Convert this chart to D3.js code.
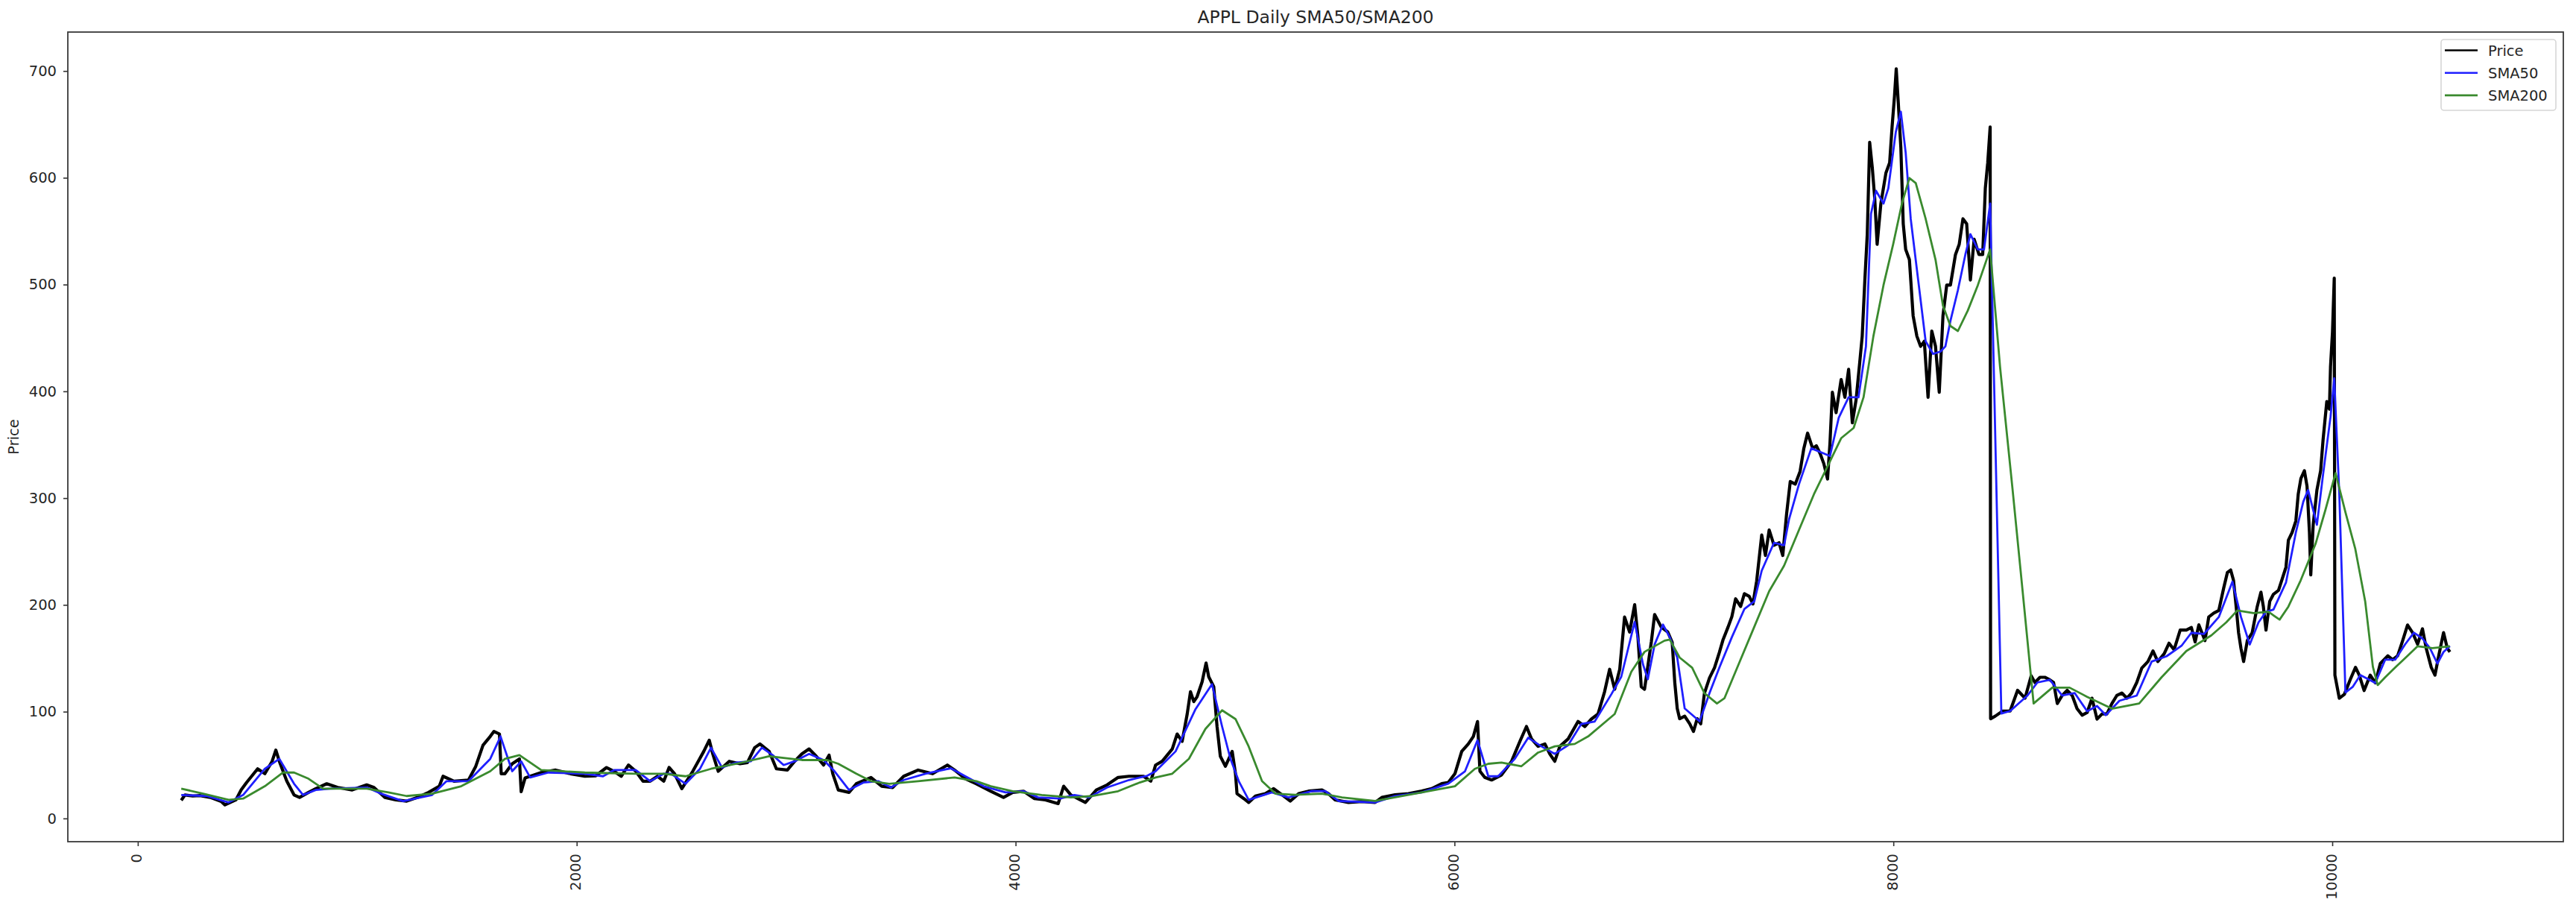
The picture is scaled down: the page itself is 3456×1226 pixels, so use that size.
<!DOCTYPE html>
<html><head><meta charset="utf-8">
<script src="https://cdn.jsdelivr.net/npm/d3@7"></script>
<style>
body{margin:0;background:#fff;}
text{font-family:"DejaVu Sans",sans-serif;}
</style>
</head><body>
<svg id="chart" width="3456" height="1226"></svg>
<script>
const chartTitle = "APPL Daily SMA50/SMA200";
const yAxisLabel = "Price";
const seriesNames = ["Price", "SMA50", "SMA200"];
const seriesColors = ["#000000", "#1f1fff", "#3a8a2e"];
const xTickValues = [0, 2000, 4000, 6000, 8000, 10000];
const yTickValues = [0, 100, 200, 300, 400, 500, 600, 700];

// [day index, value]
const priceSeries = [[198,17],[215,22],[250,21],[283,21.4],[330,19.7],[380,16],[397,12.7],[447,17.4],[471,26.7],[496,33.7],[546,46.5],[579,41.9],[612,53.5],[629,64],[645,53.5],[679,34.9],[712,22],[737,19.7],[778,24.4],[811,27.9],[861,32.5],[911,29],[977,26.7],[1043,31.4],[1076,29],[1126,19.7],[1176,17.4],[1225,16.2],[1275,19.7],[1325,24.4],[1374,30.2],[1391,39.5],[1441,34.9],[1507,36],[1540,48.8],[1573,68.6],[1606,76.8],[1623,81.5],[1648,79.1],[1656,41.9],[1673,41.9],[1706,51.2],[1739,55.8],[1747,25],[1765,38],[1788,39.5],[1838,43],[1904,45.3],[1971,41.9],[2037,39.5],[2087,40],[2136,47.7],[2170,44.2],[2203,39.5],[2236,50],[2269,44.2],[2302,34.9],[2335,34.9],[2368,39.5],
[2397,34.9],[2421,47.7],[2446,41.9],[2479,27.9],[2529,44.2],[2579,62.8],[2604,73.3],[2620,60.5],[2645,44.2],[2695,53.5],[2744,51.2],[2778,52.3],[2811,66.3],[2835,69.8],[2877,62.8],[2910,46.5],[2960,45.3],[2993,53.5],[3026,60.5],[3059,65.1],[3092,58.2],[3125,50],[3150,59.3],[3167,41.9],[3192,26.7],[3241,24.4],[3274,32.5],[3341,38.4],[3390,30.2],[3440,29],[3490,39.5],[3556,45.3],[3622,41.9],[3689,50],[3722,45.3],[3771,37.2],[3821,32.5],[3887,25.5],[3945,19.7],[3987,24.4],[4036,25.5],[4086,18.6],[4136,17.4],[4194,13.9],[4219,30.2],[4252,22],[4318,15],[4368,26.7],[4417,31.4],[4467,38.4],[4517,39.5],[4583,39.5],[4616,34.9],
[4638,50],[4668,53.5],[4714,65.1],[4736,79.1],[4759,72.2],[4782,97.8],[4797,118.7],[4812,109.4],[4827,114],[4850,128],[4868,145.5],[4880,132.7],[4903,123.4],[4918,86.1],[4933,58.2],[4956,48.9],[4987,62.8],[5002,41.9],[5009,23.2],[5040,18.6],[5062,15],[5093,20.9],[5138,23.2],[5176,27.9],[5214,22.1],[5252,16.3],[5290,23.2],[5335,25.6],[5396,26.7],[5426,23.2],[5456,17.4],[5517,15],[5578,15.8],[5638,15],[5669,19.7],[5729,22.1],[5790,23.2],[5851,25.6],[5896,27.9],[5942,32.6],[5972,33.7],[6002,41.9],[6033,62.8],[6063,69.8],[6086,76.8],[6105,90.8],[6116,44.2],[6138,38.4],[6169,36],[6214,40.7],[6260,53.5],[6298,72.1],[6328,86.1],[6351,74.5],[6381,67.5],[6412,69.8],[6434,60.5],[6457,53.5],[6480,67.5],[6518,74.5],[6563,90.8],[6594,86.1],[6624,93.1],[6654,97.8],[6684,118.7],[6707,139.7],[6730,121],[6753,139.7],[6775,188.6],[6798,174.6],[6821,200.2],[6836,170],[6851,123.4],[6866,121],[6897,165.3],[6912,191],[6942,179.3],[6972,174.6],
[6992,165],[7004,126.9],[7015,103],[7026,93.4],[7049,95.8],[7072,88.6],[7089,81.5],[7106,93.4],[7122,88.6],[7139,117.3],[7162,131.6],[7185,141.2],[7207,155.5],[7224,167.5],[7247,179.4],[7264,189],[7281,205.7],[7304,198.5],[7321,210.5],[7343,208],[7360,200.9],[7377,222.4],[7400,265.4],[7417,246.3],[7434,270.2],[7456,255.8],[7479,258.2],[7496,246.3],[7513,284.5],[7530,315.5],[7553,313.1],[7575,325.1],[7592,346.6],[7609,360.9],[7632,346.6],[7649,349],[7666,341.8],[7683,332.3],[7700,317.9],[7711,351.4],[7722,399.1],[7739,380],[7762,411.1],[7779,394.4],[7796,420.6],[7813,370.5],[7830,392],[7847,427.8],[7858,451.7],[7870,504.2],[7881,547.2],[7892,633.2],[7904,609.3],[7915,580.7],[7926,537.7],[7943,575.9],[7966,604.5],[7983,614.1],[7994,647.5],[8005,676.2],[8013,702],[8022,671.4],[8034,628.4],[8045,556.8],[8056,532.9],[8073,523.3],[8090,470.8],[8107,451.7],[8124,442.1],[8141,446.9],[8158,394.4],[8175,456.5],[8192,442.1],[8209,399.1],[8226,470.8],[8243,499.5],[8260,499.5],[8283,528.1],[8300,537.7],[8317,561.6],[8334,556.8],[8351,504.2],[8368,542.4],[8390,528.1],[8407,528.1],[8419,590.2],[8430,614.1],[8441,647.5],[8443,93.4],[8464,95.8],[8498,100.6],[8532,100.6],
[8566,120],[8600,112.6],[8628,133.5],[8645,127.3],[8668,132.2],[8690,132.2],[8713,129.8],[8730,127.3],[8747,107.7],[8769,115.1],[8792,120],[8815,115.1],[8837,102.8],[8860,96.7],[8883,99.2],[8905,112.6],[8928,93],[8951,97.9],[8973,97.9],[8996,107.7],[9018,115.1],[9041,117.5],[9064,112.6],[9086,117.5],[9109,127.3],[9132,140.8],[9160,146.9],[9183,156.8],[9205,146.9],[9234,154.3],[9256,164.1],[9279,158],[9307,176.4],[9335,176.4],[9358,178.8],[9375,165.3],[9392,181.3],[9420,166.6],[9437,188.6],[9460,192.3],[9483,194.8],[9505,215.6],[9522,230.3],[9537,232.7],[9550,222.9],[9562,198.4],[9573,173.9],[9584,159.2],[9596,147],[9613,166.6],[9635,173.9],[9658,198.4],[9675,211.9],[9686,198.4],[9698,176.4],[9715,203.3],
[9732,210],[9755,213.6],[9772,224.5],[9789,235.3],[9800,260.6],[9817,267.8],[9834,278.6],[9845,303.9],[9857,318.3],[9873,325.6],[9885,311.1],[9896,267.8],[9902,228.1],[9913,275],[9930,307.5],[9947,325.6],[9958,354.4],[9975,390.5],[9987,383.3],[9992,423],[10001,455.5],[10009,506],[10012,134.2],[10032,112.6],[10055,116.2],[10083,130.6],[10106,141.5],[10123,134.2],[10145,119.8],[10173,134.2],[10196,127],[10219,145.1],[10253,152.3],[10275,148.7],[10298,152.3],[10321,166.7],[10343,181.2],[10366,174],[10389,163.1],[10411,177.6],[10428,159.5],[10451,141.5],[10468,134.2],[10485,152.3],[10507,174],[10524,159.5],[10536,155.9]];

const sma50Series = [[198,22],[314,21],[414,15],[480,22],[579,46.5],[645,55.8],[712,32.5],[753,22],[811,26.7],[877,27.9],[1043,29],[1109,23.2],[1209,16.2],[1341,22],[1407,34.9],[1507,34.9],[1606,55.8],[1653,76.8],[1706,44.2],[1747,53.5],[1788,38.4],[1871,43],[2037,41.9],[2120,39.5],[2170,45.3],[2269,45.3],[2335,34.9],
[2397,41.9],[2430,41.9],[2496,32.5],[2562,46.5],[2612,66.3],[2662,47.7],[2728,52.3],[2794,53.5],[2844,66.3],[2893,59.3],[2943,50],[2993,53.5],[3059,60.5],[3125,54.7],[3175,44.2],[3241,26.7],[3308,33.7],[3374,34.9],[3432,29],[3490,36],[3589,41.9],[3705,47],[3771,39.5],[3854,30.2],[3954,24.4],[4036,25.5],[4103,19.7],[4202,18.6],[4268,22],[4335,19.7],[4417,29],[4517,36],[4600,40],
[4638,44.2],[4729,62.8],[4820,102.4],[4895,125.7],[4941,86.1],[4979,55.9],[5017,34.9],[5062,17.4],[5168,24.4],[5244,19.7],[5350,25.6],[5411,25.6],[5472,16.3],[5638,15],[5729,20.9],[5851,24.4],[5972,32.6],[6048,44.2],[6105,73.3],[6154,39.5],[6199,39.5],[6275,55.9],[6336,75.6],[6396,67.5],[6457,60.5],[6518,68.6],[6578,88.5],[6639,90.8],[6715,116.4],[6760,132.7],[6821,184],[6859,144.3],[6881,130.4],[6912,163],[6950,181.6],
[6981,169.8],[7015,150.7],[7049,103],[7117,91],[7162,117.3],[7207,141.2],[7264,169.8],[7321,196.1],[7366,203.3],[7400,232],[7456,258.2],[7502,255.8],[7524,279.7],[7570,313.1],[7626,346.6],[7683,341.8],[7711,339.4],[7751,375.2],[7796,394.4],[7841,394.4],[7875,442.1],[7898,566.3],[7921,587.8],[7955,575.9],[7977,590.2],[8011,642.8],[8034,661.9],[8056,623.6],[8079,561.6],[8113,504.2],[8147,446.9],[8181,435],[8215,437.3],[8237,442.1],[8260,466],[8294,494.7],[8328,528.1],[8351,547.2],[8385,532.9],[8413,532.9],[8441,575.9],[8492,98.2],[8532,100.6],
[8611,115.1],[8656,127.3],[8713,129.8],[8769,115.1],[8826,117.5],[8883,100.4],[8928,105.3],[8968,96.7],[9030,110.2],[9109,115.1],[9177,146.9],[9245,151.9],[9313,161.7],[9358,173.9],[9415,172.7],[9483,188.6],[9545,221.7],[9584,188.6],[9624,162.9],[9664,183.7],[9698,193.5],
[9732,195.6],[9789,220.9],[9834,267.8],[9868,296.7],[9890,307.5],[9930,275],[9958,322],[9992,376.1],[10009,412.2],[10032,303.9],[10060,118],[10094,123.4],[10128,134.2],[10162,130.6],[10196,127],[10241,148.7],[10287,148.7],[10332,163.1],[10372,174],[10411,168.5],[10445,159.5],[10479,145.1],[10507,155.9],[10536,161.3]];

const sma200Series = [[198,27.9],[298,23.2],[414,17.4],[480,18.6],[579,30.2],[662,43],[712,43],[778,37.2],[844,27.9],[911,27.9],[1043,27.9],[1142,24.4],[1225,21],[1341,23.2],[1474,30.2],[1606,44.2],[1673,55.8],[1739,59.3],[1838,45.3],[2037,43],[2269,41.9],
[2397,41.9],[2496,39.5],[2612,46.5],[2728,51.2],[2877,58.2],[3026,54.7],[3142,54.7],[3192,51.2],[3274,41.9],[3341,34.9],[3424,32.5],[3556,34.9],[3722,38.4],[3821,34.9],[3887,30.2],[3987,25.5],[4119,22],[4252,19.7],[4351,21],[4467,25.5],[4566,33.7],
[4638,38.4],[4714,41.9],[4790,55.9],[4865,83.8],[4941,101.3],[5002,93.1],[5062,67.5],[5123,34.9],[5184,23.2],[5274,22.1],[5396,23.2],[5487,19.7],[5638,16.3],[5851,24.4],[6002,30.2],[6093,46.5],[6154,51.2],[6214,52.3],[6305,48.9],[6381,61.7],[6457,67.5],[6548,69.8],[6609,76.8],[6730,97.8],[6806,137.4],[6866,156],[6957,166.5],
[6981,167.5],[7026,150.7],[7083,141.2],[7139,117.3],[7196,107.7],[7230,112.5],[7298,146],[7366,179.4],[7434,212.8],[7502,236.7],[7570,270.2],[7638,303.6],[7706,332.3],[7762,356.1],[7819,365.7],[7864,394.4],[7909,451.7],[7955,499.5],[7999,537.7],[8039,575.9],[8073,599.8],[8102,595],[8147,561.6],[8192,523.3],[8226,480.3],[8260,461.2],[8294,456.5],[8339,475.6],[8385,499.5],[8441,532.9],[8486,423],[8543,308.4],[8589,212.8],[8639,107.7],
[8724,122.5],[8803,122.5],[8883,113.9],[8996,102.8],[9120,107.7],[9222,132.2],[9335,156.8],[9449,171.5],[9517,183.7],[9568,194.8],[9641,192.3],[9709,193.5],[9760,186.2],[9800,198.4],[9856,222.9],[9924,257.3],[9969,289.1],[10015,323.4],[10060,286.7],[10105,252.3],[10150,203.3],[10185,142],[10207,124.9],[10241,132.2],[10287,141.5],[10343,152.3],[10389,161.3],[10456,159.5],[10536,161.3]];

const allSeries = [priceSeries, sma50Series, sma200Series];

const svg = d3.select("#chart");
const plot = {left: 91, top: 43, right: 3439, bottom: 1129};

const allPts = allSeries.flat();
const xe = d3.extent(allPts, d => d[0]);
const ye = d3.extent(allPts, d => d[1]);
const xm = (xe[1] - xe[0]) * 0.05, ym = (ye[1] - ye[0]) * 0.05;
const x = d3.scaleLinear().domain([xe[0] - xm, xe[1] + xm]).range([plot.left, plot.right]);
const y = d3.scaleLinear().domain([ye[0] - ym, ye[1] + ym]).range([plot.bottom, plot.top]);

svg.append("rect").attr("width", 3456).attr("height", 1226).attr("fill", "#fff");

// lines
const line = d3.line().x(d => x(d[0])).y(d => y(d[1]));
const widths = [4.2, 2.8, 2.8];
allSeries.forEach((s, i) => {
  svg.append("path").datum(s).attr("d", line)
    .attr("fill", "none").attr("stroke", seriesColors[i])
    .attr("stroke-width", widths[i]).attr("stroke-linejoin", "round").attr("stroke-linecap", "butt");
});

// axes
const fs = 19.5;
const yAxis = svg.append("g").attr("transform", `translate(${plot.left},0)`)
  .call(d3.axisLeft(y).tickValues(yTickValues).tickFormat(d3.format("d")).tickSize(6).tickPadding(9));
const xAxis = svg.append("g").attr("transform", `translate(0,${plot.bottom})`)
  .call(d3.axisBottom(x).tickValues(xTickValues).tickFormat(d3.format("d")).tickSize(6));
[yAxis, xAxis].forEach(g => {
  g.select(".domain").remove();
  g.selectAll(".tick line").attr("stroke", "#333").attr("stroke-width", 1.6);
  g.selectAll(".tick text").attr("fill", "#262626").style("font-size", fs + "px").style("font-family", "DejaVu Sans");
});
xAxis.selectAll(".tick text")
  .attr("x", 0).attr("y", 0).attr("dy", 0)
  .attr("text-anchor", "end")
  .attr("transform", "translate(5,16) rotate(-90)");

// spines
svg.append("rect").attr("x", plot.left).attr("y", plot.top)
  .attr("width", plot.right - plot.left).attr("height", plot.bottom - plot.top)
  .attr("fill", "none").attr("stroke", "#3a3a3a").attr("stroke-width", 1.8);

// title
svg.append("text").attr("x", (plot.left + plot.right) / 2).attr("y", 31)
  .attr("text-anchor", "middle").style("font-size", "23.5px").attr("fill", "#262626").text(chartTitle);

// y label
svg.append("text").attr("transform", `translate(25,${(plot.top + plot.bottom) / 2}) rotate(-90)`)
  .attr("text-anchor", "middle").style("font-size", fs + "px").attr("fill", "#262626").text(yAxisLabel);

// legend
const lg = svg.append("g");
lg.append("rect").attr("x", 3275).attr("y", 53).attr("width", 154).attr("height", 95)
  .attr("rx", 4).attr("fill", "#fff").attr("fill-opacity", 0.8)
  .attr("stroke", "#d6d6d6").attr("stroke-width", 1.6);
seriesNames.forEach((n, i) => {
  const yy = 67.5 + i * 30.2;
  lg.append("line").attr("x1", 3280).attr("x2", 3324).attr("y1", yy).attr("y2", yy)
    .attr("stroke", seriesColors[i]).attr("stroke-width", 2.6);
  lg.append("text").attr("x", 3338).attr("y", yy + 7).style("font-size", fs + "px")
    .attr("fill", "#262626").text(n);
});
</script>
</body></html>
